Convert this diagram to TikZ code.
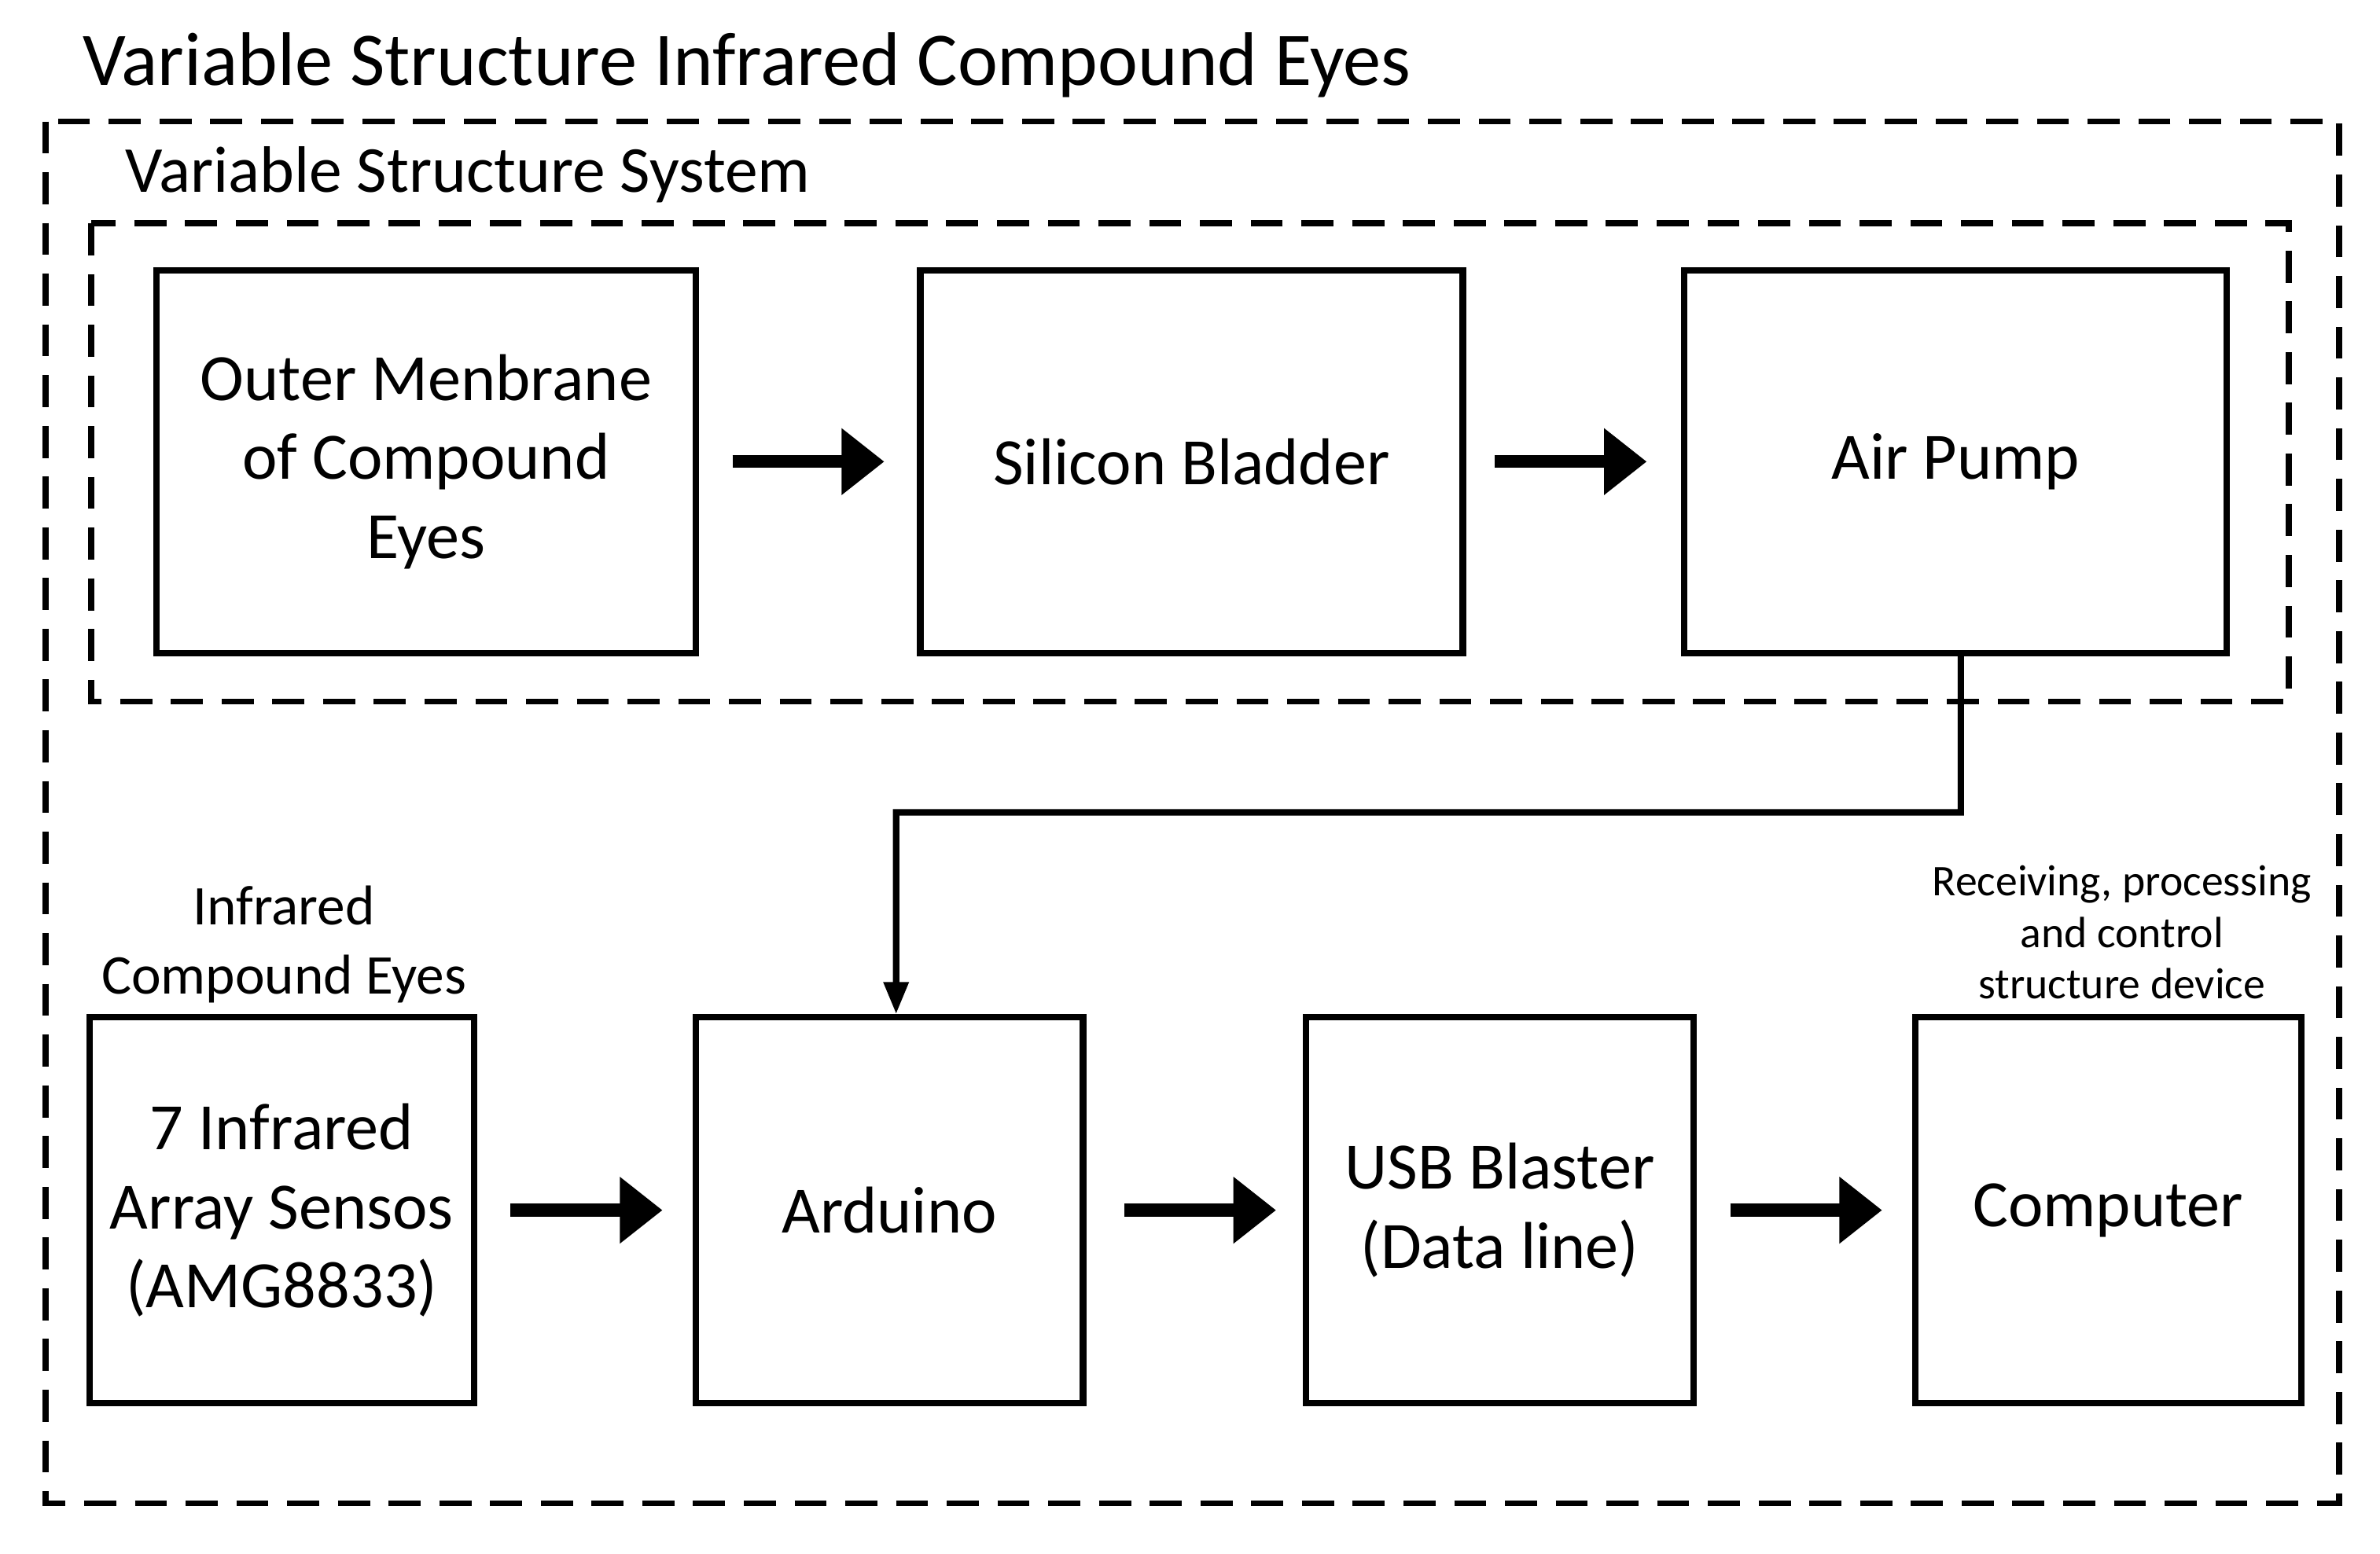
\documentclass[tikz,border=0pt]{standalone}
\usepackage{fontspec}
\setmainfont{Carlito}
\usetikzlibrary{arrows.meta}
\begin{document}
\begin{tikzpicture}[x=0.01cm,y=-0.01cm,
  box/.style 2 args={draw,line width=1.2pt,minimum width=#1,minimum height=#2,inner sep=0pt,align=center,font=\fontsize{12.4}{14.8}\selectfont},
  fat/.style={line width=2.4pt,-{Triangle[length=8pt,width=12pt]}},
  dashbox/.style={line width=1.1pt,dash pattern=on 6pt off 3.5pt},
  lbl/.style={align=center}]
\useasboundingbox (0,0) rectangle (1567,1023);
\node[anchor=west,font=\fontsize{14.2}{16}\selectfont] (title) at (42,43) {Variable Structure Infrared Compound Eyes};
\draw[dashbox] (30,80) rectangle (1540,990);
\node[anchor=west,font=\fontsize{12.3}{14}\selectfont] (vss) at (70,115) {Variable Structure System};
\draw[dashbox] (60,147) rectangle (1507,462);
\node[box={3.55cm}{2.52cm}] (a) at (280.5,304) {Outer Menbrane\\of Compound\\Eyes};
\node[box={3.57cm}{2.52cm}] (b) at (784.5,304) {Silicon Bladder};
\node[box={3.57cm}{2.52cm}] (c) at (1287.5,304) {Air Pump};
\node[box={2.53cm}{2.54cm}] (d) at (185.5,797) {7 Infrared\\Array Sensos\\(AMG8833)};
\node[box={2.55cm}{2.54cm}] (e) at (585.5,797) {Arduino};
\node[box={2.55cm}{2.54cm}] (f) at (987.5,797) {USB Blaster\\(Data line)};
\node[box={2.54cm}{2.54cm}] (g) at (1388,797) {Computer};
\draw[fat] (a.east) ++(22,0) -- ++(100,0);
\draw[fat] (b.east) ++(19,0) -- ++(100,0);
\draw[fat] (d.east) ++(22,0) -- ++(100,0);
\draw[fat] (e.east) ++(25,0) -- ++(100,0);
\draw[fat] (f.east) ++(22,0) -- ++(100,0);
\draw[line width=1.2pt,-{Triangle[length=6pt,width=4.5pt]}] ([xshift=0.035cm]c.south) |- (590,535) -- ([xshift=0.045cm]e.north);
\node[lbl,font=\fontsize{10.5}{13}\selectfont] (l1) at (187,622) {Infrared\\Compound Eyes};
\node[lbl,font=\fontsize{8.2}{9.6}\selectfont] (l2) at (1397,614) {Receiving, processing\\and control\\structure device};
\end{tikzpicture}
\end{document}
